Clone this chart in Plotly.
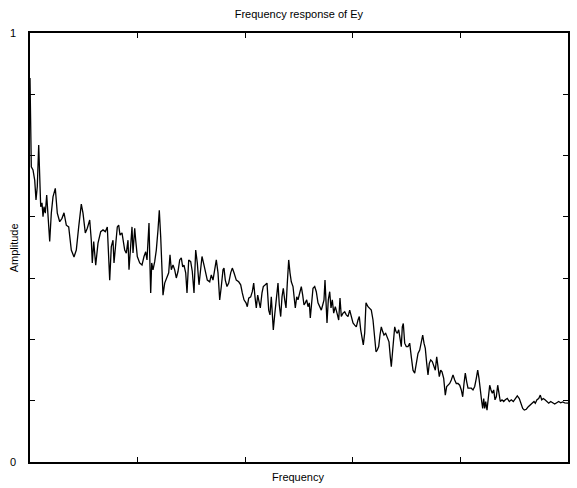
import plotly.graph_objects as go

freq = [0, 0.7, 1.3, 3, 4.7, 6, 7.3, 8.7, 9.7, 10.7, 12, 13, 14, 15.3, 16.7, 18, 19.7, 21.3, 23, 25.3,
        27.3, 29.7, 32, 34, 36.3, 38.7, 41.3, 44, 46.3, 48.7, 51.3, 53, 55.3, 57.3, 59.7, 61.3, 62.3, 63.7,
        65.7, 68, 70.7, 73, 75.3, 77.3, 78.3, 79.7, 81.3, 83, 84, 85.3, 87.3, 88.7, 90, 92, 94.7, 96.3,
        98, 99, 100.7, 102, 103, 104.7, 105.7, 107.3, 109.7, 112, 114, 115.7, 117, 118, 119, 120, 120.7,
        121.7, 123, 124.7, 126.3, 128, 129.3, 130.7, 132, 133, 134.7, 137, 138.7, 140, 141.3, 143, 144.7,
        146.3, 148, 149.7, 151.3, 152.7, 154, 155.7, 157, 158.7, 160.7, 162.3, 164, 165.7, 167.3, 169,
        170.7, 172, 174, 175.7, 177.3, 179.7, 181.3, 183, 184.7, 186.3, 188, 189.7, 191.3, 193, 194,
        195.3, 197, 198.7, 200.7, 202.3, 204, 206.3, 208.7, 210.7, 212.3, 214, 216, 217.3, 218.7, 220.7,
        222.3, 223.7, 225, 226.3, 227.7, 229, 230.3, 232, 233.3, 235.3, 237, 238.7, 240, 241.3, 242.3,
        243.3, 244.7, 246.3, 248, 249.3, 250.7, 252, 253.3, 254.7, 256, 257.3, 258.7, 260, 261.3, 263,
        264.3, 265.3, 266.7, 268, 269.7, 271.3, 272.7, 274, 275.3, 276.7, 278, 279.3, 280.3, 281.7, 283,
        284.7, 286.3, 288, 289.7, 291.3, 292.7, 294, 295, 296, 297, 298.3, 299.7, 301, 302.3, 303.7,
        305.3, 307, 308.7, 310, 311.3, 313, 314.7, 316.3, 318, 319.7, 321.3, 323, 324.7, 326.3, 328,
        329.3, 330.7, 332, 333.3, 334.7, 336, 338, 339.7, 341.3, 343, 344.7, 346, 347.3, 348.7, 350,
        351.3, 352.7, 354, 355.7, 357.3, 359, 360.3, 361.3, 362.7, 364.7, 366, 367.3, 368.7, 370, 371.3,
        372.3, 373.3, 374.7, 376.3, 378, 379.7, 381.3, 383, 384.7, 386.3, 388, 389.7, 391.3, 392.7, 394,
        395.3, 396.7, 398, 399.3, 400.7, 402.3, 404, 405.3, 406.7, 408, 409.3, 410.7, 412, 413.7, 415.3,
        416.7, 418, 419.7, 421.3, 423, 424.7, 426.3, 428, 429.7, 431.3, 432.7, 434, 435.3, 436.7, 438,
        439.7, 441.3, 443, 444.7, 446.3, 447.7, 449, 450.3, 451.7, 452.7, 453.7, 454.7, 455.7, 457, 458.3,
        459.7, 461, 462.3, 463.7, 465, 466.3, 467.7, 469, 470.3, 472, 473.7, 475.3, 477.3, 479.3, 481.3,
        483.3, 485.3, 487.3, 489.3, 491, 492.7, 494.3, 496.3, 498.3, 500.3, 502.3, 504, 505.3, 507, 508.7,
        510.3, 511.7, 513.3, 515, 516.7, 518.7, 520.7, 522.7, 524.7, 526.7, 528.7, 530.7, 532.7, 534.7,
        536.7, 538]

amplitude = [0.895, 0.797, 0.688, 0.681, 0.657, 0.611, 0.642, 0.739, 0.681, 0.595, 0.604, 0.572, 0.595,
             0.580, 0.622, 0.572, 0.514, 0.580, 0.618, 0.638, 0.580, 0.560, 0.568, 0.581, 0.552, 0.548,
             0.494, 0.478, 0.494, 0.548, 0.601, 0.580, 0.534, 0.545, 0.564, 0.517, 0.464, 0.514, 0.459,
             0.510, 0.537, 0.541, 0.537, 0.548, 0.479, 0.424, 0.502, 0.517, 0.464, 0.502, 0.548, 0.552,
             0.529, 0.534, 0.494, 0.487, 0.517, 0.448, 0.510, 0.548, 0.487, 0.545, 0.517, 0.479, 0.464,
             0.459, 0.479, 0.490, 0.471, 0.534, 0.557, 0.455, 0.394, 0.464, 0.448, 0.467, 0.494, 0.541,
             0.587, 0.525, 0.432, 0.389, 0.417, 0.429, 0.441, 0.483, 0.448, 0.459, 0.448, 0.429, 0.444,
             0.471, 0.476, 0.455, 0.459, 0.441, 0.394, 0.471, 0.467, 0.444, 0.394, 0.494, 0.464, 0.413,
             0.455, 0.479, 0.459, 0.441, 0.424, 0.420, 0.436, 0.424, 0.448, 0.471, 0.441, 0.378, 0.409,
             0.448, 0.452, 0.424, 0.409, 0.417, 0.441, 0.452, 0.441, 0.424, 0.420, 0.413, 0.394, 0.378,
             0.371, 0.362, 0.382, 0.385, 0.397, 0.417, 0.385, 0.359, 0.389, 0.374, 0.359, 0.394, 0.409,
             0.413, 0.417, 0.354, 0.343, 0.385, 0.331, 0.308, 0.343, 0.374, 0.417, 0.366, 0.339, 0.385,
             0.405, 0.378, 0.359, 0.417, 0.471, 0.441, 0.420, 0.409, 0.385, 0.359, 0.385, 0.378, 0.394,
             0.409, 0.389, 0.366, 0.371, 0.378, 0.362, 0.371, 0.336, 0.385, 0.405, 0.409, 0.397, 0.371,
             0.362, 0.354, 0.366, 0.378, 0.424, 0.385, 0.324, 0.378, 0.397, 0.359, 0.378, 0.347, 0.362,
             0.347, 0.331, 0.382, 0.339, 0.347, 0.350, 0.343, 0.339, 0.354, 0.336, 0.324, 0.319, 0.315,
             0.331, 0.339, 0.308, 0.292, 0.273, 0.301, 0.371, 0.362, 0.359, 0.354, 0.331, 0.292, 0.257,
             0.261, 0.269, 0.296, 0.315, 0.304, 0.296, 0.300, 0.292, 0.280, 0.245, 0.222, 0.261, 0.315,
             0.304, 0.300, 0.308, 0.288, 0.269, 0.315, 0.323, 0.277, 0.269, 0.269, 0.277, 0.245, 0.214,
             0.207, 0.230, 0.253, 0.261, 0.284, 0.296, 0.277, 0.265, 0.230, 0.203, 0.230, 0.238, 0.234,
             0.222, 0.214, 0.245, 0.222, 0.199, 0.214, 0.210, 0.195, 0.156, 0.176, 0.179, 0.183, 0.191,
             0.203, 0.191, 0.183, 0.183, 0.179, 0.168, 0.152, 0.183, 0.207, 0.187, 0.172, 0.172, 0.172,
             0.168, 0.176, 0.195, 0.214, 0.195, 0.164, 0.141, 0.125, 0.148, 0.125, 0.141, 0.121, 0.152,
             0.179, 0.168, 0.160, 0.168, 0.145, 0.152, 0.179, 0.160, 0.141, 0.145, 0.141, 0.145, 0.148,
             0.141, 0.145, 0.141, 0.148, 0.154, 0.148, 0.137, 0.125, 0.121, 0.123, 0.129, 0.133, 0.137,
             0.141, 0.137, 0.145, 0.148, 0.156, 0.145, 0.148, 0.145, 0.141, 0.137, 0.141, 0.138, 0.135,
             0.138, 0.141, 0.138, 0.140, 0.138, 0.138, 0.137]

x_ticks = [0, 107.6, 215.2, 322.8, 430.4, 538]
y_ticks = [0, 1/7, 2/7, 3/7, 4/7, 5/7, 6/7, 1]
y_tick_text = ["0", "", "", "", "", "", "", "1"]

FONT = "Liberation Sans, Arial, sans-serif"

fig = go.Figure()
fig.add_trace(go.Scatter(x=freq, y=amplitude, mode="lines",
                         line=dict(color="black", width=1.3), showlegend=False,
                         hoverinfo="skip"))

fig.update_layout(
    width=577, height=488,
    margin=dict(l=30, r=9, t=33, b=26),
    paper_bgcolor="white", plot_bgcolor="white",
    font=dict(family=FONT, size=11, color="black"),
    title=dict(text="Frequency response of Ey", x=0.518, xanchor="center",
               y=0.972, yanchor="middle", font=dict(family=FONT, size=11, color="black")),
    xaxis=dict(range=[0, 538], tickvals=x_ticks, showticklabels=False,
               ticks="inside", ticklen=5, tickcolor="black", tickwidth=1,
               showline=True, linecolor="black", linewidth=1.5, mirror="ticks",
               showgrid=False, zeroline=False, fixedrange=True),
    yaxis=dict(range=[0, 1], tickvals=y_ticks, ticktext=y_tick_text,
               ticks="inside", ticklen=5, tickcolor="black", tickwidth=1,
               showline=True, linecolor="black", linewidth=1.5, mirror="ticks",
               showgrid=False, zeroline=False, fixedrange=True, automargin=False,
               ticklabelstandoff=10,
               tickfont=dict(family=FONT, size=11, color="black")),
    annotations=[
        dict(text="Amplitude", xref="paper", yref="paper", x=-0.03, y=0.5,
             xanchor="center", yanchor="middle", textangle=-90, showarrow=False,
             font=dict(family=FONT, size=11, color="black")),
        dict(text="Frequency", xref="paper", yref="paper", x=0.498, y=-0.035,
             xanchor="center", yanchor="middle", showarrow=False,
             font=dict(family=FONT, size=11, color="black")),
    ],
)

fig.write_html("out.html")
